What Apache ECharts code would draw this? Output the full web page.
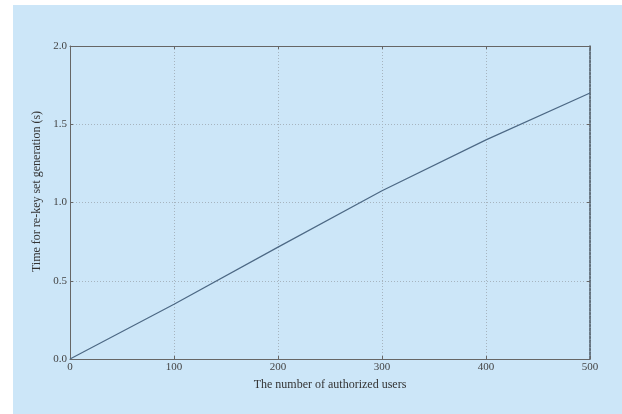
<!DOCTYPE html>
<html><head><meta charset="utf-8">
<script src="https://cdn.jsdelivr.net/npm/echarts@6/dist/echarts.min.js"></script>
<style>html,body{margin:0;padding:0;background:#fff}#c{width:622px;height:414px}</style>
</head><body><div id="c"></div>
<script>
const users = [0, 100, 200, 300, 400, 500];
const times = [0, 0.35, 0.715, 1.075, 1.40, 1.70];
const xTicks = [0, 100, 200, 300, 400, 500];
const yTicks = [0.0, 0.5, 1.0, 1.5, 2.0];

const font = 'Liberation Serif';
const chart = echarts.init(document.getElementById('c'));
chart.setOption({
  backgroundColor: '#ffffff',
  animation: false,
  graphic: [{type: 'rect', z: -10, shape: {x: 13, y: 5, width: 609, height: 409}, style: {fill: '#cce6f8'}}],
  grid: {left: 70, right: 32, top: 46, bottom: 55},
  xAxis: [{
    type: 'value', min: 0, max: 500, interval: 100,
    name: 'The number of authorized users', nameLocation: 'middle', nameGap: 20,
    nameTextStyle: {fontFamily: font, fontSize: 12, color: '#333'},
    axisLine: {show: true, onZero: false, lineStyle: {color: '#666', width: 1}},
    axisTick: {show: true, inside: true, length: 3, lineStyle: {color: '#666'}},
    axisLabel: {fontFamily: font, fontSize: 11, color: '#444', margin: 3,
      formatter: v => xTicks.includes(v) ? String(v) : ''},
    splitLine: {show: true, lineStyle: {color: '#a6b4bf', type: [1, 2], width: 1}}
  }, {
    type: 'value', position: 'top', min: 0, max: 500, interval: 100,
    axisLine: {show: true, onZero: false, lineStyle: {color: '#666', width: 1}},
    axisTick: {show: true, inside: true, length: 3, lineStyle: {color: '#666'}},
    axisLabel: {show: false}, splitLine: {show: false}
  }],
  yAxis: [{
    type: 'value', min: 0, max: 2, interval: 0.5,
    name: 'Time for re-key set generation (s)', nameLocation: 'middle', nameGap: 25,
    nameTextStyle: {fontFamily: font, fontSize: 12, color: '#333', padding: [0, 0, 0, 22]},
    axisLine: {show: true, onZero: false, lineStyle: {color: '#666', width: 1}},
    axisTick: {show: true, inside: true, length: 3, lineStyle: {color: '#666'}},
    axisLabel: {fontFamily: font, fontSize: 11, color: '#444', margin: 3,
      formatter: v => yTicks.some(t => Math.abs(t - v) < 1e-9) ? v.toFixed(1) : ''},
    splitLine: {show: true, lineStyle: {color: '#a6b4bf', type: [1, 2], width: 1}}
  }, {
    type: 'value', position: 'right', min: 0, max: 2, interval: 0.5,
    axisLine: {show: true, onZero: false, lineStyle: {color: '#4a5560', width: 1.5, type: [3, 1]}},
    axisTick: {show: true, inside: true, length: 3, lineStyle: {color: '#666'}},
    axisLabel: {show: false}, splitLine: {show: false}
  }],
  series: [{
    type: 'line', xAxisIndex: 0, yAxisIndex: 0,
    data: users.map((u, i) => [u, times[i]]),
    showSymbol: false, symbol: 'none',
    lineStyle: {color: '#4d6985', width: 1.2}
  }]
});
</script></body></html>
